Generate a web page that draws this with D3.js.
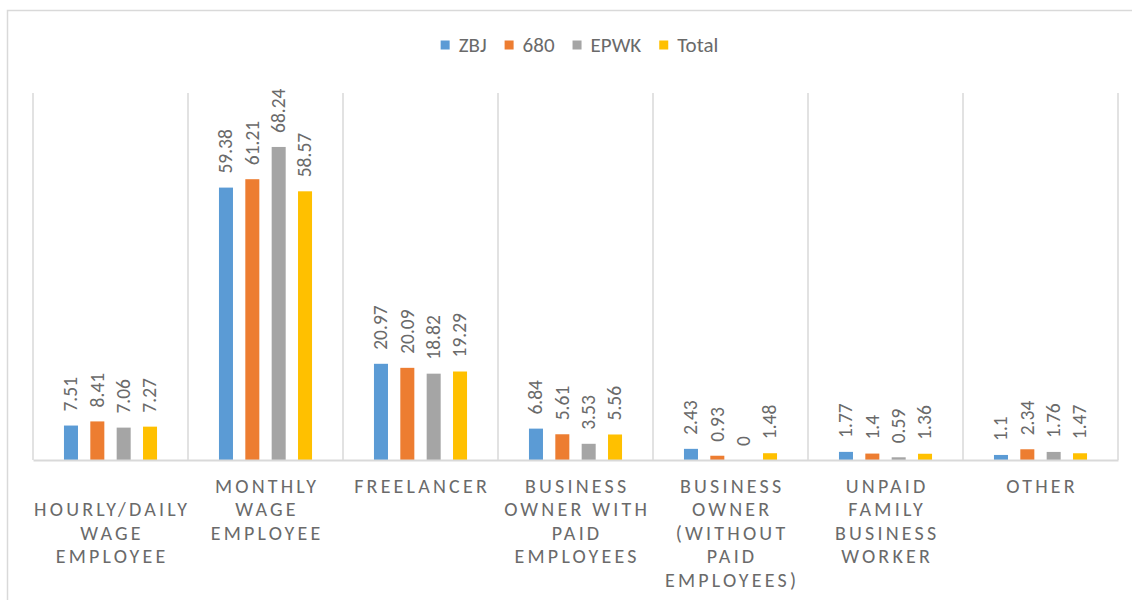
<!DOCTYPE html>
<html>
<head>
<meta charset="utf-8">
<script src="https://cdn.jsdelivr.net/npm/d3@7"></script>
<style>
  html, body { margin: 0; padding: 0; background: #ffffff; }
  svg { display: block; font-family: "Carlito", "Liberation Sans", Arial, sans-serif; }
</style>
</head>
<body>
<svg id="chart" width="1132" height="600"></svg>
<script>
// ---- data ----
const categories = ["hourly", "monthly", "freelancer", "ownerPaid", "ownerNoPaid", "unpaidFamily", "other"];
const categoryLabels = [
  ["", "HOURLY/DAILY", "WAGE", "EMPLOYEE"],
  ["MONTHLY", "WAGE", "EMPLOYEE"],
  ["FREELANCER"],
  ["BUSINESS", "OWNER WITH", "PAID", "EMPLOYEES"],
  ["BUSINESS", "OWNER", "(WITHOUT", "PAID", "EMPLOYEES)"],
  ["UNPAID", "FAMILY", "BUSINESS", "WORKER"],
  ["OTHER"]
];
const seriesNames = ["ZBJ", "680", "EPWK", "Total"];
const zbj   = [7.51, 59.38, 20.97, 6.84, 2.43, 1.77, 1.1];
const s680  = [8.41, 61.21, 20.09, 5.61, 0.93, 1.4, 2.34];
const epwk  = [7.06, 68.24, 18.82, 3.53, 0, 0.59, 1.76];
const total = [7.27, 58.57, 19.29, 5.56, 1.48, 1.36, 1.47];
const seriesValues = [zbj, s680, epwk, total];
const seriesColors = ["#5B9BD5", "#ED7D31", "#A5A5A5", "#FFC000"];

// ---- layout ----
const svg = d3.select("#chart");
const plotLeft = 33, plotRight = 1118, plotTop = 93, plotBottom = 460;
const gridColor = "#D9D9D9";
const textColor = "#6A6A6A";

// outer chart border
svg.append("rect")
  .attr("x", 7.5).attr("y", 10.5)
  .attr("width", 1140).attr("height", 600)
  .attr("fill", "none").attr("stroke", gridColor).attr("stroke-width", 1.5);

const x0 = d3.scaleBand().domain(categories).range([plotLeft, plotRight]).paddingInner(0).paddingOuter(0);
const x1 = d3.scaleBand().domain(seriesNames).range([0, x0.bandwidth()]).paddingInner(0.468).paddingOuter(1.175);
const y = d3.scaleLinear().domain([0, 80]).range([plotBottom, plotTop]);

// vertical category separators
const sepPositions = categories.map(c => x0(c)).concat([plotRight]);
svg.append("g").selectAll("line").data(sepPositions).join("line")
  .attr("x1", d => d).attr("x2", d => d)
  .attr("y1", y(80)).attr("y2", y(0))
  .attr("stroke", gridColor).attr("stroke-width", 1.5);

// bars
const rows = [];
categories.forEach((c, ci) => {
  seriesNames.forEach((s, si) => {
    rows.push({ cat: c, ci, series: s, si, value: seriesValues[si][ci] });
  });
});

svg.append("g").selectAll("rect").data(rows).join("rect")
  .attr("x", d => x0(d.cat) + x1(d.series))
  .attr("y", d => y(d.value))
  .attr("width", x1.bandwidth())
  .attr("height", d => y(0) - y(d.value))
  .attr("fill", d => seriesColors[d.si]);

// value labels (rotated)
svg.append("g").selectAll("text").data(rows).join("text")
  .attr("transform", d => `translate(${x0(d.cat) + x1(d.series) + x1.bandwidth() / 2},${y(d.value) - 14}) rotate(-90)`)
  .attr("dy", "0.33em")
  .attr("text-anchor", "start")
  .attr("font-size", 19.5)
  .attr("fill", textColor)
  .text(d => String(d.value));

// x axis baseline
const xAxis = d3.axisBottom(x0).tickSize(0).tickFormat("");
const axisG = svg.append("g").attr("transform", `translate(0,${plotBottom})`).call(xAxis);
axisG.select(".domain").attr("stroke", gridColor).attr("stroke-width", 2);

// category labels
const catG = svg.append("g");
categories.forEach((c, ci) => {
  const cx = x0(c) + x0.bandwidth() / 2;
  const t = catG.append("text")
    .attr("text-anchor", "middle")
    .attr("font-size", 20)
    .attr("letter-spacing", 3.2)
    .attr("fill", textColor);
  categoryLabels[ci].forEach((line, li) => {
    t.append("tspan")
      .attr("x", cx + 1.6)
      .attr("y", 492.5 + li * 23.5)
      .text(line);
  });
});

// legend
const legend = svg.append("g");
let lx = 0;
seriesNames.forEach((s, si) => {
  const g = legend.append("g");
  g.append("rect").attr("x", 0).attr("y", 40.5).attr("width", 9).attr("height", 9).attr("fill", seriesColors[si]);
  const tx = g.append("text").attr("x", 18).attr("y", 52)
    .attr("font-size", 21).attr("fill", textColor).text(s);
  const w = 18 + tx.node().getComputedTextLength();
  g.attr("transform", `translate(${lx},0)`);
  lx += w + 18;
});
const legendWidth = lx - 18;
legend.attr("transform", `translate(${579.5 - legendWidth / 2},0)`);
</script>
</body>
</html>
